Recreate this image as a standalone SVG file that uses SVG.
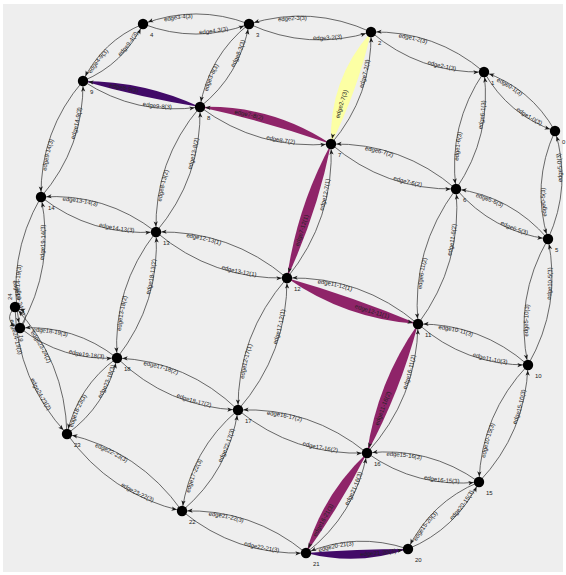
<svg xmlns="http://www.w3.org/2000/svg" width="566" height="575" viewBox="0 0 566 575">
<style>
.e{fill:none;stroke:#3a3a3a;stroke-width:0.75;marker-end:url(#ah)}
.c{fill:none;stroke:none;marker-end:url(#ah)}
.t{font-family:"Liberation Sans",Arial,sans-serif;font-size:6px;fill:#222}
.h{dominant-baseline:hanging}
.m{dominant-baseline:central}
.nl{font-family:"Liberation Sans",Arial,sans-serif;font-size:6px;fill:#222}
.pu{fill:#420a68}
.mg{fill:#8f2469}
.ye{fill:#fcffa4}
</style>
<defs>
<marker id="ah" markerUnits="userSpaceOnUse" orient="auto" overflow="visible" markerWidth="12" markerHeight="12" refX="0" refY="0"><path d="M-5.4,0 L-10.6,-2.1 L-9.3,0 L-10.6,2.1 Z" fill="#1a1a1a"/></marker>
<path id="r0-1" d="M484,72 Q530.7,88 555,131"/>
<path id="r1-2" d="M371,32 Q435.1,30.5 484,72"/>
<path id="r2-3" d="M249,24 Q311.5,4.8 371,32"/>
<path id="r3-4" d="M143,24 Q196,3.9 249,24"/>
<path id="r5-6" d="M456,189 Q511.5,196.5 548,239"/>
<path id="r6-7" d="M331,144 Q402.1,142.7 456,189"/>
<path id="r7-8" d="M200,107 Q269,113.1 331,144"/>
<path id="r8-9" d="M83,81 Q142.5,89.3 200,107"/>
<path id="r10-11" d="M418,324 Q480.8,323.6 528,365"/>
<path id="r11-12" d="M287,278 Q361.2,276.1 418,324"/>
<path id="r12-13" d="M156,232 Q230.2,230.1 287,278"/>
<path id="r13-14" d="M41,197 Q105.2,192.6 156,232"/>
<path id="r15-16" d="M367,453 Q428.5,446.2 479,482"/>
<path id="r16-17" d="M238,410 Q310.7,407 367,453"/>
<path id="r17-18" d="M117,358 Q187.4,361 238,410"/>
<path id="r18-19" d="M20,328 Q74.2,324.6 117,358"/>
<path id="r20-21" d="M306,553 Q356.2,531.6 408,549"/>
<path id="r21-22" d="M182,511 Q252,508.4 306,553"/>
<path id="r22-23" d="M67,434 Q139.1,450.6 182,511"/>
<path id="r23-24" d="M15,307 Q65.1,360.6 67,434"/>
<path id="r0-5" d="M548,239 Q531,183.7 555,131"/>
<path id="r5-10" d="M528,365 Q514.1,298.2 548,239"/>
<path id="r10-15" d="M479,482 Q481.3,414.2 528,365"/>
<path id="r15-20" d="M408,549 Q430.8,502 479,482"/>
<path id="r1-6" d="M456,189 Q447.8,125.2 484,72"/>
<path id="r6-11" d="M418,324 Q411.3,249.3 456,189"/>
<path id="r11-16" d="M367,453 Q388.6,387 418,324"/>
<path id="r16-21" d="M306,553 Q331.5,500 367,453"/>
<path id="r2-7" d="M331,144 Q343.2,85.2 371,32"/>
<path id="r7-12" d="M287,278 Q307,210.3 331,144"/>
<path id="r12-17" d="M238,410 Q237.4,334.7 287,278"/>
<path id="r17-22" d="M182,511 Q190.8,449.9 238,410"/>
<path id="r3-8" d="M200,107 Q208.7,56.2 249,24"/>
<path id="r8-13" d="M156,232 Q154.2,161.1 200,107"/>
<path id="r13-18" d="M117,358 Q112.6,287.6 156,232"/>
<path id="r18-23" d="M67,434 Q77.6,386.5 117,358"/>
<path id="r4-9" d="M83,81 Q102.2,41.1 143,24"/>
<path id="r9-14" d="M41,197 Q40,131 83,81"/>
<path id="r14-19" d="M20,328 Q5.6,258.5 41,197"/>
</defs>
<rect width="566" height="575" fill="#ffffff"/>
<rect x="3" y="4" width="560" height="568" fill="#eeeeee"/>
<g id="connectors">
<path class="mg" d="M331,144 Q271.4,104.5 200,107 Q266.6,121.6 331,144 Z"/>
<path class="pu" d="M200,107 Q144.4,81.1 83,81 Q140.7,97.5 200,107 Z"/>
<path class="mg" d="M287,278 Q346.1,319.3 418,324 Q353.9,297.1 287,278 Z"/>
<path class="pu" d="M306,553 Q357.6,566.3 408,549 Q356.9,549 306,553 Z"/>
<path class="mg" d="M418,324 Q377,382.4 367,453 Q400.2,391.6 418,324 Z"/>
<path class="mg" d="M367,453 Q322.5,494.5 306,553 Q340.5,505.4 367,453 Z"/>
<path class="ye" d="M371,32 Q328.6,80 331,144 Q357.7,90.4 371,32 Z"/>
<path class="mg" d="M331,144 Q296.9,207 287,278 Q317,213.6 331,144 Z"/>
<path id="c7-8" class="c" d="M331,144 Q269,113.1 200,107"/>
<path id="c8-9" class="c" d="M200,107 Q142.5,89.3 83,81"/>
<path id="c12-11" class="c" d="M287,278 Q350,308.2 418,324"/>
<path id="c21-20" class="c" d="M306,553 Q357.3,557.6 408,549"/>
<path id="c11-16" class="c" d="M418,324 Q388.6,387 367,453"/>
<path id="c16-21" class="c" d="M367,453 Q331.5,500 306,553"/>
<path id="c2-7" class="c" d="M371,32 Q343.2,85.2 331,144"/>
<path id="c7-12" class="c" d="M331,144 Q307,210.3 287,278"/>
<path id="e0-1" class="e" d="M555,131 Q530.7,88 484,72"/>
<path id="e1-0" class="e" d="M484,72 Q508.3,115 555,131"/>
<path id="e1-2" class="e" d="M484,72 Q435.1,30.5 371,32"/>
<path id="e2-1" class="e" d="M371,32 Q419.9,73.5 484,72"/>
<path id="e2-3" class="e" d="M371,32 Q311.5,4.8 249,24"/>
<path id="e3-2" class="e" d="M249,24 Q308.5,51.2 371,32"/>
<path id="e3-4" class="e" d="M249,24 Q196,3.9 143,24"/>
<path id="e4-3" class="e" d="M143,24 Q196,44.1 249,24"/>
<path id="e5-6" class="e" d="M548,239 Q511.5,196.5 456,189"/>
<path id="e6-5" class="e" d="M456,189 Q492.5,231.5 548,239"/>
<path id="e6-7" class="e" d="M456,189 Q402.1,142.7 331,144"/>
<path id="e7-6" class="e" d="M331,144 Q384.9,190.3 456,189"/>
<path id="e8-7" class="e" d="M200,107 Q258.5,150.4 331,144"/>
<path id="e9-8" class="e" d="M83,81 Q136.6,116.2 200,107"/>
<path id="e10-11" class="e" d="M528,365 Q480.8,323.6 418,324"/>
<path id="e11-10" class="e" d="M418,324 Q465.2,365.4 528,365"/>
<path id="e11-12" class="e" d="M418,324 Q361.2,276.1 287,278"/>
<path id="e12-13" class="e" d="M287,278 Q230.2,230.1 156,232"/>
<path id="e13-12" class="e" d="M156,232 Q212.8,279.9 287,278"/>
<path id="e13-14" class="e" d="M156,232 Q105.2,192.6 41,197"/>
<path id="e14-13" class="e" d="M41,197 Q91.8,236.4 156,232"/>
<path id="e15-16" class="e" d="M479,482 Q428.5,446.2 367,453"/>
<path id="e16-15" class="e" d="M367,453 Q417.5,488.8 479,482"/>
<path id="e16-17" class="e" d="M367,453 Q310.7,407 238,410"/>
<path id="e17-16" class="e" d="M238,410 Q294.3,456 367,453"/>
<path id="e17-18" class="e" d="M238,410 Q187.4,361 117,358"/>
<path id="e18-17" class="e" d="M117,358 Q167.6,407 238,410"/>
<path id="e18-19" class="e" d="M117,358 Q74.2,324.6 20,328"/>
<path id="e19-18" class="e" d="M20,328 Q62.8,361.4 117,358"/>
<path id="e20-21" class="e" d="M408,549 Q356.2,531.6 306,553"/>
<path id="e21-22" class="e" d="M306,553 Q252,508.4 182,511"/>
<path id="e22-21" class="e" d="M182,511 Q236,555.6 306,553"/>
<path id="e22-23" class="e" d="M182,511 Q139.1,450.6 67,434"/>
<path id="e23-22" class="e" d="M67,434 Q109.9,494.4 182,511"/>
<path id="e23-24" class="e" d="M67,434 Q65.1,360.6 15,307"/>
<path id="e24-23" class="e" d="M15,307 Q16.9,380.4 67,434"/>
<path id="e0-5" class="e" d="M555,131 Q531,183.7 548,239"/>
<path id="e5-0" class="e" d="M548,239 Q572,186.3 555,131"/>
<path id="e5-10" class="e" d="M548,239 Q514.1,298.2 528,365"/>
<path id="e10-5" class="e" d="M528,365 Q561.9,305.8 548,239"/>
<path id="e10-15" class="e" d="M528,365 Q481.3,414.2 479,482"/>
<path id="e15-10" class="e" d="M479,482 Q525.7,432.8 528,365"/>
<path id="e15-20" class="e" d="M479,482 Q430.8,502 408,549"/>
<path id="e20-15" class="e" d="M408,549 Q456.2,529 479,482"/>
<path id="e1-6" class="e" d="M484,72 Q447.8,125.2 456,189"/>
<path id="e6-1" class="e" d="M456,189 Q492.2,135.8 484,72"/>
<path id="e6-11" class="e" d="M456,189 Q411.3,249.3 418,324"/>
<path id="e11-6" class="e" d="M418,324 Q462.7,263.7 456,189"/>
<path id="e16-11" class="e" d="M367,453 Q417,398.2 418,324"/>
<path id="e21-16" class="e" d="M306,553 Q355.5,514.6 367,453"/>
<path id="e7-2" class="e" d="M331,144 Q372.3,95.6 371,32"/>
<path id="e12-7" class="e" d="M287,278 Q334.5,219.4 331,144"/>
<path id="e12-17" class="e" d="M287,278 Q237.4,334.7 238,410"/>
<path id="e17-12" class="e" d="M238,410 Q287.6,353.3 287,278"/>
<path id="e17-22" class="e" d="M238,410 Q190.8,449.9 182,511"/>
<path id="e22-17" class="e" d="M182,511 Q229.2,471.1 238,410"/>
<path id="e3-8" class="e" d="M249,24 Q208.7,56.2 200,107"/>
<path id="e8-3" class="e" d="M200,107 Q240.3,74.8 249,24"/>
<path id="e8-13" class="e" d="M200,107 Q154.2,161.1 156,232"/>
<path id="e13-8" class="e" d="M156,232 Q201.8,177.9 200,107"/>
<path id="e13-18" class="e" d="M156,232 Q112.6,287.6 117,358"/>
<path id="e18-13" class="e" d="M117,358 Q160.4,302.4 156,232"/>
<path id="e18-23" class="e" d="M117,358 Q77.6,386.5 67,434"/>
<path id="e23-18" class="e" d="M67,434 Q106.4,405.5 117,358"/>
<path id="e4-9" class="e" d="M143,24 Q102.2,41.1 83,81"/>
<path id="e9-4" class="e" d="M83,81 Q123.8,63.9 143,24"/>
<path id="e9-14" class="e" d="M83,81 Q40,131 41,197"/>
<path id="e14-9" class="e" d="M41,197 Q84,147 83,81"/>
<path id="e14-19" class="e" d="M41,197 Q5.6,258.5 20,328"/>
<path id="e19-14" class="e" d="M20,328 Q55.4,266.5 41,197"/>
<path id="e19-24" class="e" d="M20,328 Q33,313.8 15,307"/>
<path id="e24-19" class="e" d="M15,307 Q2,321.2 20,328"/>
<g class="t" text-anchor="end">
<text class="h"><textPath href="#r0-1" startOffset="47%">edge0-1(3)</textPath></text>
<text class="h"><textPath href="#r1-2" startOffset="47%">edge1-2(3)</textPath></text>
<text class="h"><textPath href="#r2-3" startOffset="47%">edge2-3(3)</textPath></text>
<text class="h"><textPath href="#r3-4" startOffset="47%">edge3-4(3)</textPath></text>
<text class="h"><textPath href="#r5-6" startOffset="47%">edge5-6(3)</textPath></text>
<text class="h"><textPath href="#r6-7" startOffset="47%">edge6-7(2)</textPath></text>
<text class="m"><textPath href="#r7-8" startOffset="47%">edge7-8(2)</textPath></text>
<text class="m"><textPath href="#r8-9" startOffset="47%">edge8-9(3)</textPath></text>
<text class="h"><textPath href="#r10-11" startOffset="47%">edge10-11(3)</textPath></text>
<text class="h"><textPath href="#r11-12" startOffset="47%">edge11-12(1)</textPath></text>
<text class="h"><textPath href="#r12-13" startOffset="47%">edge12-13(1)</textPath></text>
<text class="h"><textPath href="#r13-14" startOffset="47%">edge13-14(3)</textPath></text>
<text class="h"><textPath href="#r15-16" startOffset="47%">edge15-16(3)</textPath></text>
<text class="h"><textPath href="#r16-17" startOffset="47%">edge16-17(2)</textPath></text>
<text class="h"><textPath href="#r17-18" startOffset="47%">edge17-18(2)</textPath></text>
<text class="h"><textPath href="#r18-19" startOffset="47%">edge18-19(3)</textPath></text>
<text class="h"><textPath href="#r20-21" startOffset="47%">edge20-21(3)</textPath></text>
<text class="h"><textPath href="#r21-22" startOffset="47%">edge21-22(3)</textPath></text>
<text class="h"><textPath href="#r22-23" startOffset="47%">edge22-23(3)</textPath></text>
<text class="h"><textPath href="#r23-24" startOffset="47%">edge23-24(2)</textPath></text>
<text class="h"><textPath href="#r0-5" startOffset="47%">edge0-5(3)</textPath></text>
<text class="h"><textPath href="#r5-10" startOffset="47%">edge5-10(3)</textPath></text>
<text class="h"><textPath href="#r10-15" startOffset="47%">edge10-15(3)</textPath></text>
<text class="h"><textPath href="#r15-20" startOffset="47%">edge15-20(3)</textPath></text>
<text class="h"><textPath href="#r1-6" startOffset="47%">edge1-6(3)</textPath></text>
<text class="h"><textPath href="#r6-11" startOffset="47%">edge6-11(2)</textPath></text>
<text class="m"><textPath href="#r11-16" startOffset="47%">edge11-16(2)</textPath></text>
<text class="m"><textPath href="#r16-21" startOffset="47%">edge16-21(3)</textPath></text>
<text class="m"><textPath href="#r2-7" startOffset="47%">edge2-7(3)</textPath></text>
<text class="m"><textPath href="#r7-12" startOffset="47%">edge7-12(1)</textPath></text>
<text class="h"><textPath href="#r12-17" startOffset="47%">edge12-17(1)</textPath></text>
<text class="h"><textPath href="#r17-22" startOffset="47%">edge17-22(3)</textPath></text>
<text class="h"><textPath href="#r3-8" startOffset="47%">edge3-8(3)</textPath></text>
<text class="h"><textPath href="#r8-13" startOffset="47%">edge8-13(2)</textPath></text>
<text class="h"><textPath href="#r13-18" startOffset="47%">edge13-18(2)</textPath></text>
<text class="h"><textPath href="#r18-23" startOffset="47%">edge18-23(3)</textPath></text>
<text class="h"><textPath href="#r4-9" startOffset="47%">edge4-9(3)</textPath></text>
<text class="h"><textPath href="#r9-14" startOffset="47%">edge9-14(3)</textPath></text>
<text class="h"><textPath href="#r14-19" startOffset="47%">edge14-19(3)</textPath></text>
</g>
<g class="t">
<text><textPath href="#e1-0" startOffset="53%">edge1-0(3)</textPath></text>
<text><textPath href="#e2-1" startOffset="53%">edge2-1(3)</textPath></text>
<text><textPath href="#e3-2" startOffset="53%">edge3-2(3)</textPath></text>
<text><textPath href="#e4-3" startOffset="53%">edge4-3(3)</textPath></text>
<text><textPath href="#e6-5" startOffset="53%">edge6-5(3)</textPath></text>
<text><textPath href="#e7-6" startOffset="53%">edge7-6(2)</textPath></text>
<text><textPath href="#e8-7" startOffset="53%">edge8-7(2)</textPath></text>
<text><textPath href="#e9-8" startOffset="53%">edge9-8(3)</textPath></text>
<text><textPath href="#e11-10" startOffset="53%">edge11-10(3)</textPath></text>
<text class="m"><textPath href="#c12-11" startOffset="53%">edge12-11(1)</textPath></text>
<text><textPath href="#e13-12" startOffset="53%">edge13-12(1)</textPath></text>
<text><textPath href="#e14-13" startOffset="53%">edge14-13(3)</textPath></text>
<text><textPath href="#e16-15" startOffset="53%">edge16-15(3)</textPath></text>
<text><textPath href="#e17-16" startOffset="53%">edge17-16(2)</textPath></text>
<text><textPath href="#e18-17" startOffset="53%">edge18-17(2)</textPath></text>
<text><textPath href="#e19-18" startOffset="53%">edge19-18(3)</textPath></text>
<text class="m"><textPath href="#c21-20" startOffset="53%">edge21-20(3)</textPath></text>
<text><textPath href="#e22-21" startOffset="53%">edge22-21(3)</textPath></text>
<text><textPath href="#e23-22" startOffset="53%">edge23-22(3)</textPath></text>
<text><textPath href="#e24-23" startOffset="53%">edge24-23(2)</textPath></text>
<text><textPath href="#e5-0" startOffset="53%">edge5-0(3)</textPath></text>
<text><textPath href="#e10-5" startOffset="53%">edge10-5(3)</textPath></text>
<text><textPath href="#e15-10" startOffset="53%">edge15-10(3)</textPath></text>
<text><textPath href="#e20-15" startOffset="53%">edge20-15(3)</textPath></text>
<text><textPath href="#e6-1" startOffset="53%">edge6-1(3)</textPath></text>
<text><textPath href="#e11-6" startOffset="53%">edge11-6(2)</textPath></text>
<text><textPath href="#e16-11" startOffset="53%">edge16-11(2)</textPath></text>
<text><textPath href="#e21-16" startOffset="53%">edge21-16(3)</textPath></text>
<text><textPath href="#e7-2" startOffset="53%">edge7-2(3)</textPath></text>
<text><textPath href="#e12-7" startOffset="53%">edge12-7(1)</textPath></text>
<text><textPath href="#e17-12" startOffset="53%">edge17-12(1)</textPath></text>
<text><textPath href="#e22-17" startOffset="53%">edge22-17(3)</textPath></text>
<text><textPath href="#e8-3" startOffset="53%">edge8-3(3)</textPath></text>
<text><textPath href="#e13-8" startOffset="53%">edge13-8(2)</textPath></text>
<text><textPath href="#e18-13" startOffset="53%">edge18-13(2)</textPath></text>
<text><textPath href="#e23-18" startOffset="53%">edge23-18(3)</textPath></text>
<text><textPath href="#e9-4" startOffset="53%">edge9-4(3)</textPath></text>
<text><textPath href="#e14-9" startOffset="53%">edge14-9(3)</textPath></text>
<text><textPath href="#e19-14" startOffset="53%">edge19-14(3)</textPath></text>
<text x="25" y="315" text-anchor="end" transform="rotate(76.6 25 315)" dy="4">edge19-24(3)</text>
<text x="10" y="320" transform="rotate(76.6 10 320)">edge24-19(3)</text>
</g>
</g>
<g id="node-0"><circle cx="555" cy="131" r="5.2"/><text class="nl" x="562" y="144">0</text></g>
<g id="node-1"><circle cx="484" cy="72" r="5.2"/><text class="nl" x="491" y="85">1</text></g>
<g id="node-2"><circle cx="371" cy="32" r="5.2"/><text class="nl" x="378" y="45">2</text></g>
<g id="node-3"><circle cx="249" cy="24" r="5.2"/><text class="nl" x="256" y="37">3</text></g>
<g id="node-4"><circle cx="143" cy="24" r="5.2"/><text class="nl" x="150" y="37">4</text></g>
<g id="node-5"><circle cx="548" cy="239" r="5.2"/><text class="nl" x="555" y="252">5</text></g>
<g id="node-6"><circle cx="456" cy="189" r="5.2"/><text class="nl" x="463" y="202">6</text></g>
<g id="node-7"><circle cx="331" cy="144" r="5.2"/><text class="nl" x="338" y="157">7</text></g>
<g id="node-8"><circle cx="200" cy="107" r="5.2"/><text class="nl" x="207" y="120">8</text></g>
<g id="node-9"><circle cx="83" cy="81" r="5.2"/><text class="nl" x="90" y="94">9</text></g>
<g id="node-10"><circle cx="528" cy="365" r="5.2"/><text class="nl" x="535" y="378">10</text></g>
<g id="node-11"><circle cx="418" cy="324" r="5.2"/><text class="nl" x="425" y="337">11</text></g>
<g id="node-12"><circle cx="287" cy="278" r="5.2"/><text class="nl" x="294" y="291">12</text></g>
<g id="node-13"><circle cx="156" cy="232" r="5.2"/><text class="nl" x="163" y="245">13</text></g>
<g id="node-14"><circle cx="41" cy="197" r="5.2"/><text class="nl" x="48" y="210">14</text></g>
<g id="node-15"><circle cx="479" cy="482" r="5.2"/><text class="nl" x="486" y="495">15</text></g>
<g id="node-16"><circle cx="367" cy="453" r="5.2"/><text class="nl" x="374" y="466">16</text></g>
<g id="node-17"><circle cx="238" cy="410" r="5.2"/><text class="nl" x="245" y="423">17</text></g>
<g id="node-18"><circle cx="117" cy="358" r="5.2"/><text class="nl" x="124" y="371">18</text></g>
<g id="node-19"><circle cx="20" cy="328" r="5.2"/><text class="nl" x="19" y="335" transform="rotate(90 19 335)">19</text></g>
<g id="node-20"><circle cx="408" cy="549" r="5.2"/><text class="nl" x="415" y="562">20</text></g>
<g id="node-21"><circle cx="306" cy="553" r="5.2"/><text class="nl" x="313" y="566">21</text></g>
<g id="node-22"><circle cx="182" cy="511" r="5.2"/><text class="nl" x="189" y="524">22</text></g>
<g id="node-23"><circle cx="67" cy="434" r="5.2"/><text class="nl" x="74" y="447">23</text></g>
<g id="node-24"><circle cx="15" cy="307" r="5.2"/><text class="nl" x="12" y="300" transform="rotate(-90 12 300)">24</text></g>
</svg>
